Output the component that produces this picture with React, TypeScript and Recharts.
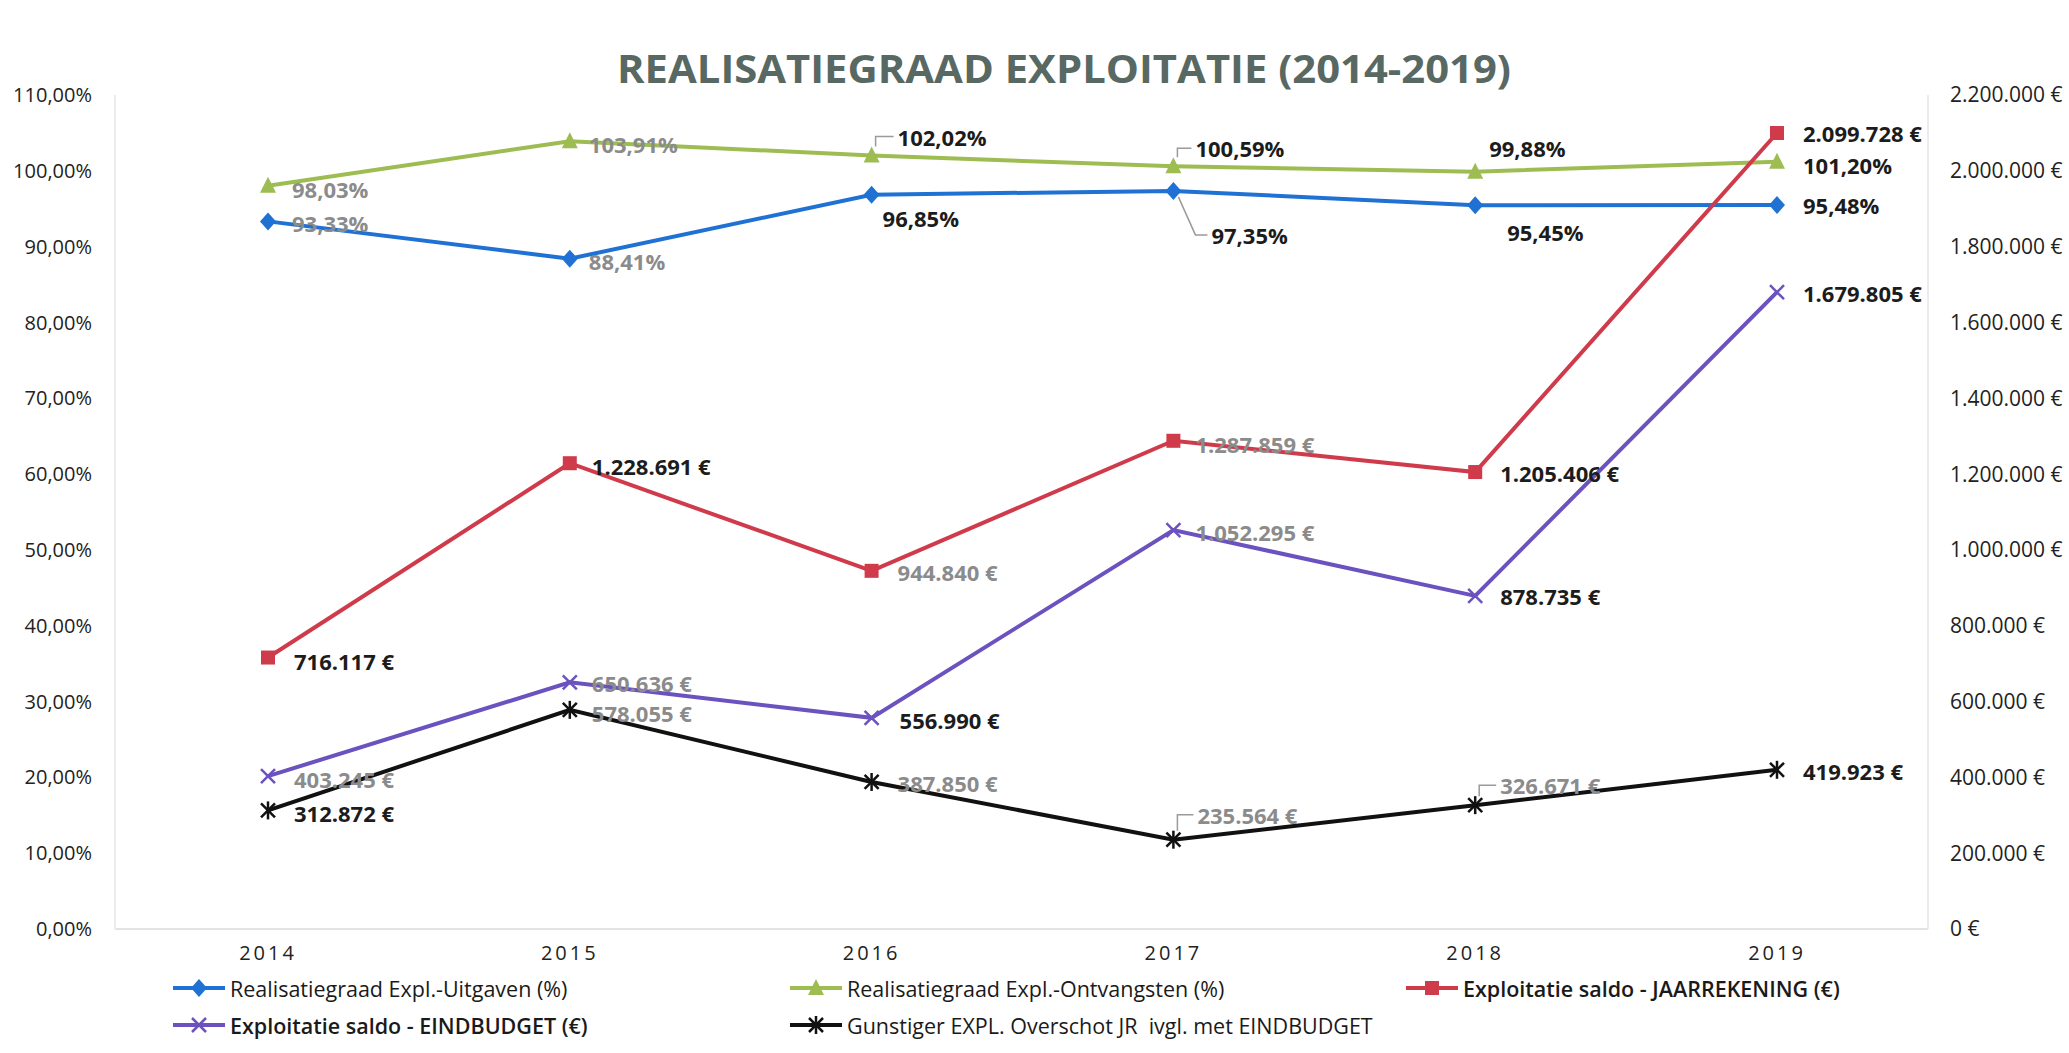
import React from "react"
import { LineChart, Line, XAxis, YAxis, Legend, Customized } from "recharts"

const years = ["2014", "2015", "2016", "2017", "2018", "2019"]
const uitgavenPct = [93.33, 88.41, 96.85, 97.35, 95.45, 95.48]
const ontvangstenPct = [98.03, 103.91, 102.02, 100.59, 99.88, 101.2]
const saldoJaarrekening = [716117, 1228691, 944840, 1287859, 1205406, 2099728]
const saldoEindbudget = [403245, 650636, 556990, 1052295, 878735, 1679805]
const overschotJR = [312872, 578055, 387850, 235564, 326671, 419923]
const pctTicks = [0, 10, 20, 30, 40, 50, 60, 70, 80, 90, 100, 110]
const eurTicks = [0, 200000, 400000, 600000, 800000, 1000000, 1200000, 1400000, 1600000, 1800000, 2000000, 2200000]

const W = 2069
const H = 1053
const GRAY = "#8b8b8b"
const INK = "#1c1c1c"

const data = years.map((year, i) => ({
  year,
  uitgaven: uitgavenPct[i],
  ontvangsten: ontvangstenPct[i],
  jaarrekening: saldoJaarrekening[i],
  eindbudget: saldoEindbudget[i],
  overschot: overschotJR[i],
}))

const fmtPct = (v: number) => `${v.toFixed(2).replace(".", ",")}%`
const fmtEur = (v: number) => `${Math.round(v).toString().replace(/\B(?=(\d{3})+(?!\d))/g, ".")} €`

type Lbl = { dx: number; dy: number; tone: "g" | "k"; leader?: "up" | "down" }

// label placement per point (offset from the marker)
const labelPlacement: Record<string, Lbl[]> = {
  ontvangsten: [
    { dx: 24, dy: 3, tone: "g" },
    { dx: 19, dy: 3, tone: "g" },
    { dx: 26, dy: -19, tone: "k", leader: "up" },
    { dx: 22, dy: -18, tone: "k", leader: "up" },
    { dx: 14, dy: -24, tone: "k" },
    { dx: 26, dy: 3, tone: "k" },
  ],
  uitgaven: [
    { dx: 24, dy: 2, tone: "g" },
    { dx: 19, dy: 2, tone: "g" },
    { dx: 11, dy: 23, tone: "k" },
    { dx: 38, dy: 44, tone: "k", leader: "down" },
    { dx: 32, dy: 27, tone: "k" },
    { dx: 26, dy: 0, tone: "k" },
  ],
  jaarrekening: [
    { dx: 26, dy: 3, tone: "k" },
    { dx: 22, dy: 3, tone: "k" },
    { dx: 26, dy: 1, tone: "g" },
    { dx: 22, dy: 3, tone: "g" },
    { dx: 25, dy: 1, tone: "k" },
    { dx: 26, dy: 0, tone: "k" },
  ],
  eindbudget: [
    { dx: 26, dy: 3, tone: "g" },
    { dx: 22, dy: 1, tone: "g" },
    { dx: 28, dy: 2, tone: "k" },
    { dx: 22, dy: 2, tone: "g" },
    { dx: 25, dy: 0, tone: "k" },
    { dx: 26, dy: 1, tone: "k" },
  ],
  overschot: [
    { dx: 26, dy: 3, tone: "k" },
    { dx: 22, dy: 3, tone: "g" },
    { dx: 26, dy: 1, tone: "g" },
    { dx: 24, dy: -25, tone: "g", leader: "up" },
    { dx: 25, dy: -20, tone: "g", leader: "up" },
    { dx: 26, dy: 1, tone: "k" },
  ],
}

type Shape = "diamond" | "triangle" | "square" | "cross" | "star"

const series = [
  { key: "uitgaven", name: "Realisatiegraad Expl.-Uitgaven (%)", color: "#1f72d3", shape: "diamond" as Shape, axis: "pct", fmt: fmtPct },
  { key: "ontvangsten", name: "Realisatiegraad Expl.-Ontvangsten (%)", color: "#9dbd52", shape: "triangle" as Shape, axis: "pct", fmt: fmtPct },
  { key: "jaarrekening", name: "Exploitatie saldo - JAARREKENING (€)", color: "#cf3b4b", shape: "square" as Shape, axis: "eur", fmt: fmtEur },
  { key: "eindbudget", name: "Exploitatie saldo - EINDBUDGET (€)", color: "#6b52bf", shape: "cross" as Shape, axis: "eur", fmt: fmtEur },
  { key: "overschot", name: "Gunstiger EXPL. Overschot JR  ivgl. met EINDBUDGET", color: "#111111", shape: "star" as Shape, axis: "eur", fmt: fmtEur },
]

function Marker({ cx, cy, shape, color }: { cx: number; cy: number; shape: Shape; color: string }) {
  switch (shape) {
    case "diamond":
      return <polygon points={`${cx},${cy - 9} ${cx + 8},${cy} ${cx},${cy + 9} ${cx - 8},${cy}`} fill={color} />
    case "triangle":
      return <polygon points={`${cx},${cy - 9} ${cx + 8},${cy + 7} ${cx - 8},${cy + 7}`} fill={color} />
    case "square":
      return <rect x={cx - 7} y={cy - 7} width={14} height={14} fill={color} />
    case "cross":
      return (
        <g stroke={color} strokeWidth={2.5}>
          <line x1={cx - 7} y1={cy - 7} x2={cx + 7} y2={cy + 7} />
          <line x1={cx - 7} y1={cy + 7} x2={cx + 7} y2={cy - 7} />
        </g>
      )
    default:
      return (
        <g stroke={color} strokeWidth={2.5}>
          <line x1={cx - 7} y1={cy - 7} x2={cx + 7} y2={cy + 7} />
          <line x1={cx - 7} y1={cy + 7} x2={cx + 7} y2={cy - 7} />
          <line x1={cx} y1={cy - 9} x2={cx} y2={cy + 9} />
        </g>
      )
  }
}

function makeDot(s: (typeof series)[number]) {
  return (p: any) => {
    const { cx, cy, index, value } = p
    const v = Array.isArray(value) ? value[1] : value
    const cfg = labelPlacement[s.key][index]
    const lx = cx + cfg.dx
    const ly = cy + cfg.dy
    let leader = null
    if (cfg.leader === "up") {
      leader = <polyline points={`${cx + 4},${cy - 9} ${cx + 4},${ly} ${lx - 4},${ly}`} fill="none" stroke="#9a9a9a" strokeWidth={1.5} />
    } else if (cfg.leader === "down") {
      leader = <polyline points={`${cx + 5},${cy + 6} ${lx - 16},${ly} ${lx - 4},${ly}`} fill="none" stroke="#9a9a9a" strokeWidth={1.5} />
    }
    return (
      <g key={`${s.key}-${index}`}>
        {leader}
        <Marker cx={cx} cy={cy} shape={s.shape} color={s.color} />
        <text x={lx} y={ly} dominantBaseline="central" fontSize={22} fontWeight={700} fill={cfg.tone === "g" ? GRAY : INK}>
          {s.fmt(v)}
        </text>
      </g>
    )
  }
}

const legendSlots = [
  { left: 171, top: 28, weight: 500 },
  { left: 788, top: 28, weight: 500 },
  { left: 1404, top: 28, weight: 600 },
  { left: 171, top: 65, weight: 600 },
  { left: 788, top: 65, weight: 500 },
]

function LegendBlock() {
  return (
    <div style={{ position: "relative", width: W, height: 93 }}>
      {series.map((s, i) => (
        <div
          key={s.key}
          style={{
            position: "absolute",
            left: legendSlots[i].left,
            top: legendSlots[i].top - 14,
            height: 28,
            display: "flex",
            alignItems: "center",
            fontSize: 21.5,
            fontWeight: legendSlots[i].weight,
            color: "#1a1a1a",
            whiteSpace: "pre",
          }}
        >
          <svg width={56} height={28} style={{ marginRight: 3 }}>
            <line x1={2} y1={14} x2={54} y2={14} stroke={s.color} strokeWidth={4} />
            <Marker cx={28} cy={14} shape={s.shape} color={s.color} />
          </svg>
          {s.name}
        </div>
      ))}
    </div>
  )
}

function Title() {
  return (
    <text
      x={1064}
      y={67}
      textAnchor="middle"
      dominantBaseline="central"
      fontSize={40}
      fontWeight={700}
      fill="#586862"
      textLength={894}
      lengthAdjust="spacingAndGlyphs"
    >
      REALISATIEGRAAD EXPLOITATIE (2014-2019)
    </text>
  )
}

export default function App() {
  return (
    <div style={{ position: "absolute", left: 0, top: 0, width: W, height: H, background: "#fff", fontFamily: "'Open Sans', sans-serif" }}>
      <LineChart width={W} height={H} data={data} margin={{ top: 95, right: 0, bottom: 74, left: 0 }}>
        <Customized component={Title} />
        <XAxis
          dataKey="year"
          height={50}
          padding={{ left: 153, right: 151 }}
          tickLine={false}
          tickSize={0}
          tickMargin={17}
          axisLine={{ stroke: "#e3e3e6", strokeWidth: 2 }}
          tick={{ fontSize: 20, fill: "#222", letterSpacing: 3 }}
        />
        <YAxis
          yAxisId="pct"
          orientation="left"
          width={115}
          domain={[0, 110]}
          ticks={pctTicks}
          tickFormatter={fmtPct}
          tickLine={false}
          tickSize={0}
          tickMargin={23}
          axisLine={{ stroke: "#ececef", strokeWidth: 2 }}
          tick={{ fontSize: 20, fill: "#222" }}
        />
        <YAxis
          yAxisId="eur"
          orientation="right"
          width={141}
          domain={[0, 2200000]}
          ticks={eurTicks}
          tickFormatter={fmtEur}
          tickLine={false}
          tickSize={0}
          tickMargin={22}
          axisLine={{ stroke: "#ececef", strokeWidth: 2 }}
          tick={{ fontSize: 21, fill: "#222" }}
        />
        <Legend
          layout="horizontal"
          verticalAlign="middle"
          align="center"
          wrapperStyle={{ top: 960, left: 0, width: W, height: 93 }}
          content={() => <LegendBlock />}
        />
        {series.map((s) => (
          <Line
            key={s.key}
            yAxisId={s.axis}
            dataKey={s.key}
            name={s.name}
            stroke={s.color}
            strokeWidth={4}
            dot={makeDot(s)}
            activeDot={false}
            isAnimationActive={false}
          />
        ))}
      </LineChart>
    </div>
  )
}
